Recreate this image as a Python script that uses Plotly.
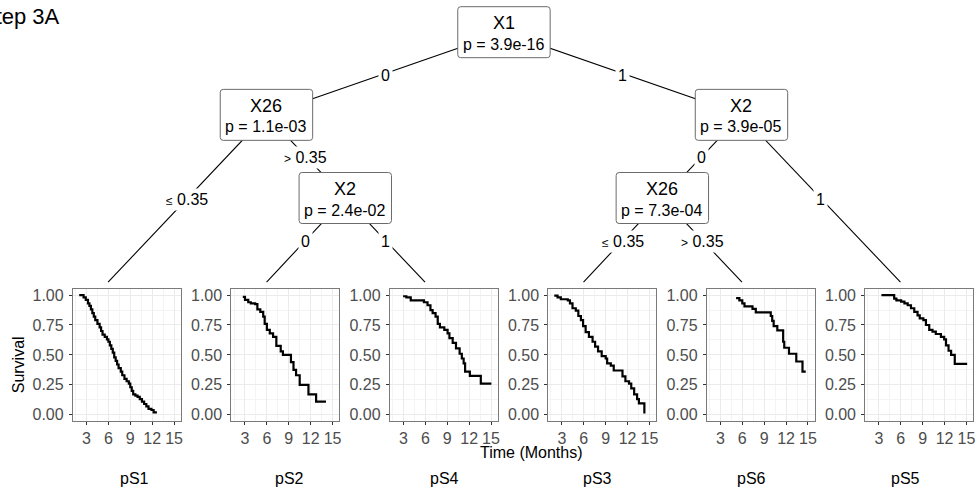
import plotly.graph_objects as go

W, H = 977, 498

# ---------------- data ----------------
groups = ["pS1", "pS2", "pS4", "pS3", "pS6", "pS5"]

pS1_time = [2.0, 2.6, 2.9, 3.2, 3.4, 3.6, 3.8, 4.0, 4.2, 4.5, 4.8, 5.0, 5.2, 5.5, 5.8, 6.0, 6.2, 6.4,
            6.6, 6.8, 7.0, 7.2, 7.4, 7.7, 7.9, 8.2, 8.5, 8.8, 9.0, 9.2, 9.4, 9.7, 10.0, 10.3, 10.6,
            10.9, 11.2, 11.5, 11.9, 12.2, 12.5]
pS1_surv = [1.0, 0.98, 0.96, 0.93, 0.91, 0.88, 0.85, 0.82, 0.79, 0.76, 0.73, 0.70, 0.67, 0.65, 0.63,
            0.61, 0.58, 0.55, 0.52, 0.48, 0.45, 0.42, 0.39, 0.36, 0.33, 0.30, 0.28, 0.26, 0.23, 0.20,
            0.17, 0.16, 0.15, 0.13, 0.11, 0.09, 0.07, 0.05, 0.04, 0.02, 0.01]

pS2_time = [2.7, 3.0, 3.45, 3.8, 4.4, 4.7, 5.1, 5.5, 5.7, 6.0, 6.4, 6.85, 7.3, 7.9, 8.2, 8.9, 9.3,
            9.65, 10.0, 10.5, 11.7, 12.75, 14.1]
pS2_surv = [0.985, 0.96, 0.94, 0.93, 0.925, 0.88, 0.86, 0.82, 0.76, 0.71, 0.68, 0.65, 0.575, 0.53,
            0.50, 0.50, 0.44, 0.375, 0.33, 0.25, 0.17, 0.11, 0.11]

pS4_time = [2.95, 3.4, 4.0, 5.4, 5.8, 6.3, 6.7, 7.0, 7.4, 7.7, 8.0, 8.6, 9.05, 9.3, 9.75, 10.2, 10.7,
            11.0, 11.25, 11.45, 12.1, 13.6, 15.05]
pS4_surv = [0.99, 0.98, 0.955, 0.955, 0.94, 0.915, 0.875, 0.85, 0.82, 0.76, 0.73, 0.71, 0.68, 0.64,
            0.60, 0.555, 0.51, 0.47, 0.43, 0.36, 0.325, 0.26, 0.26]

pS3_time = [1.95, 2.4, 2.85, 3.8, 4.1, 4.45, 4.9, 5.25, 5.6, 5.9, 6.25, 6.7, 7.2, 7.55, 7.95, 8.45,
            9.0, 9.2, 9.7, 10.1, 10.8, 11.3, 11.7, 12.2, 12.5, 12.9, 13.3, 13.55, 14.25, 14.3]
pS3_surv = [0.995, 0.98, 0.965, 0.955, 0.93, 0.89, 0.87, 0.825, 0.79, 0.74, 0.69, 0.65, 0.61, 0.57,
            0.53, 0.49, 0.47, 0.43, 0.41, 0.37, 0.37, 0.32, 0.28, 0.26, 0.22, 0.17, 0.13, 0.095, 0.095,
            0.01]

pS6_time = [5.15, 5.6, 6.0, 6.3, 7.4, 7.85, 9.2, 9.9, 10.1, 10.3, 10.8, 11.6, 11.75, 12.4, 13.4,
            14.25, 14.7]
pS6_surv = [0.975, 0.955, 0.93, 0.905, 0.885, 0.855, 0.855, 0.825, 0.785, 0.74, 0.705, 0.61, 0.56,
            0.51, 0.445, 0.36, 0.36]

pS5_time = [3.35, 4.9, 5.1, 5.4, 6.05, 6.5, 6.95, 7.4, 7.85, 8.3, 8.6, 9.1, 9.45, 9.9, 10.35, 10.8,
            11.5, 11.95, 12.2, 12.55, 12.9, 13.4, 15.1]
pS5_surv = [1.0, 1.0, 0.97, 0.955, 0.945, 0.93, 0.915, 0.89, 0.86, 0.83, 0.805, 0.79, 0.75, 0.71,
            0.695, 0.675, 0.65, 0.63, 0.58, 0.535, 0.50, 0.425, 0.425]

curves = {
    "pS1": (pS1_time, pS1_surv), "pS2": (pS2_time, pS2_surv), "pS4": (pS4_time, pS4_surv),
    "pS3": (pS3_time, pS3_surv), "pS6": (pS6_time, pS6_surv), "pS5": (pS5_time, pS5_surv),
}

x_ticks = [3, 6, 9, 12, 15]
y_ticks = [0.0, 0.25, 0.5, 0.75, 1.0]
y_ticktext = ["0.00", "0.25", "0.50", "0.75", "1.00"]

# tree: node name, split variable, p-value
inner_nodes = [
    ("n1", "X1", "p = 3.9e-16"),
    ("n2", "X26", "p = 1.1e-03"),
    ("n4", "X2", "p = 2.4e-02"),
    ("n7", "X2", "p = 3.9e-05"),
    ("n8", "X26", "p = 7.3e-04"),
]
edges = [
    ("n1", "n2", "0"), ("n1", "n7", "1"),
    ("n2", "pS1", "≤"), ("n2", "n4", ">"),
    ("n4", "pS2", "0"), ("n4", "pS4", "1"),
    ("n7", "n8", "0"), ("n7", "pS5", "1"),
    ("n8", "pS3", "≤"), ("n8", "pS6", ">"),
]
threshold = "0.35"

# ---------------- layout geometry (pixels) ----------------
node_center = {
    "n1": (505, 30.5), "n2": (267, 114), "n4": (346, 198),
    "n7": (743, 114), "n8": (663.7, 198),
}
BOX_W, BOX_H = 92.6, 51.5
panel_left0, panel_step, panel_w = 73, 158.8, 108
panel_top, panel_bot = 290, 423
term_y = 283
for i, g in enumerate(groups):
    node_center[g] = (panel_left0 + i * panel_step + 35.3, term_y)

FONT = "Liberation Sans, Arial, sans-serif"


def px(x):
    return x / W


def py(y):
    return 1 - y / H


def text_at(x, y, text, size=16, **kw):
    d = dict(xref="paper", yref="paper", x=px(x), y=py(y), text=text, showarrow=False,
             xanchor="center", yanchor="middle", font=dict(size=size, color="black", family=FONT))
    d.update(kw)
    return d


fig = go.Figure()
layout = dict(
    width=W, height=H, margin=dict(l=0, r=0, t=0, b=0),
    plot_bgcolor="white", paper_bgcolor="white", showlegend=False,
    font=dict(family=FONT, size=16, color="black"),
)

for i, g in enumerate(groups):
    k = "" if i == 0 else str(i + 1)
    t, s = curves[g]
    fig.add_trace(go.Scatter(x=t, y=s, mode="lines", line=dict(color="black", width=2.2, shape="hv"),
                             xaxis="x" + k, yaxis="y" + k, hoverinfo="skip"))
    x0 = panel_left0 + i * panel_step
    layout["xaxis" + k] = dict(
        domain=[px(x0), px(x0 + panel_w)], range=[1.13, 15.9], anchor="y" + k,
        tickvals=x_ticks, ticks="outside", ticklen=3, tickcolor="#333333",
        showline=True, linecolor="#7a7a7a", linewidth=1, mirror=True,
        showgrid=True, gridcolor="#EBEBEB", gridwidth=1, zeroline=False,
        minor=dict(dtick=1.5, tick0=0, showgrid=True, gridcolor="#F4F4F4", gridwidth=0.6),
        tickfont=dict(family=FONT, size=16, color="#4D4D4D"), fixedrange=True,
    )
    layout["yaxis" + k] = dict(
        domain=[py(panel_bot), py(panel_top)], range=[-0.05, 1.05], anchor="x" + k,
        tickvals=y_ticks, ticktext=y_ticktext, ticks="outside", ticklen=3, tickcolor="#333333",
        showline=True, linecolor="#7a7a7a", linewidth=1, mirror=True,
        showgrid=True, gridcolor="#EBEBEB", gridwidth=1, zeroline=False,
        minor=dict(dtick=0.125, tick0=0, showgrid=True, gridcolor="#F4F4F4", gridwidth=0.6),
        tickfont=dict(family=FONT, size=16, color="#4D4D4D"), fixedrange=True,
        ticklabelstandoff=2,
    )

shapes = []
annotations = []

# edges (center to center), labels at midpoint
for a, b, lab in edges:
    (xa, ya), (xb, yb) = node_center[a], node_center[b]
    shapes.append(dict(type="line", xref="paper", yref="paper", x0=px(xa), y0=py(ya), x1=px(xb),
                       y1=py(yb), line=dict(color="black", width=1.1)))
    if lab in ("≤", ">"):
        text = "<span style='font-size:12px'>%s</span> %s" % (lab, threshold)
    else:
        text = lab
    annotations.append(text_at((xa + xb) / 2, (ya + yb) / 2 + 1.5, text, bgcolor="white", borderpad=2))

# node boxes
r = 3
for name, var, pv in inner_nodes:
    cx, cy = node_center[name]
    x0, x1 = cx - BOX_W / 2, cx + BOX_W / 2
    y0, y1 = cy - BOX_H / 2, cy + BOX_H / 2
    X0, X1, Y0, Y1 = px(x0), px(x1), py(y1), py(y0)
    rx, ry = r / W, r / H
    path = (f"M {X0 + rx},{Y0} L {X1 - rx},{Y0} Q {X1},{Y0} {X1},{Y0 + ry} L {X1},{Y1 - ry} "
            f"Q {X1},{Y1} {X1 - rx},{Y1} L {X0 + rx},{Y1} Q {X0},{Y1} {X0},{Y1 - ry} "
            f"L {X0},{Y0 + ry} Q {X0},{Y0} {X0 + rx},{Y0} Z")
    shapes.append(dict(type="path", xref="paper", yref="paper", path=path, fillcolor="white",
                       line=dict(color="#6b6b6b", width=1)))
    annotations.append(text_at(cx, y0 + 16.5, var, size=18))
    annotations.append(text_at(cx, y0 + 38, pv, size=16))

# terminal labels
label_x = [135, 290, 445, 598.5, 753, 907]
for g, lx in zip(groups, label_x):
    annotations.append(text_at(lx, 481, g))

# axis titles
annotations.append(text_at(18, 366, "Survival", textangle=-90))
annotations.append(text_at(533, 455.5, "Time (Months)"))

# title (cut off at left edge)
annotations.append(text_at(0, 15, "Step 3A", size=22, xanchor="left", xshift=-21))

layout["shapes"] = shapes
layout["annotations"] = annotations
fig.update_layout(**layout)
fig.write_html("out.html", config={"displayModeBar": False},
               post_script="document.body.style.margin='0px';document.body.style.overflow='hidden';")
